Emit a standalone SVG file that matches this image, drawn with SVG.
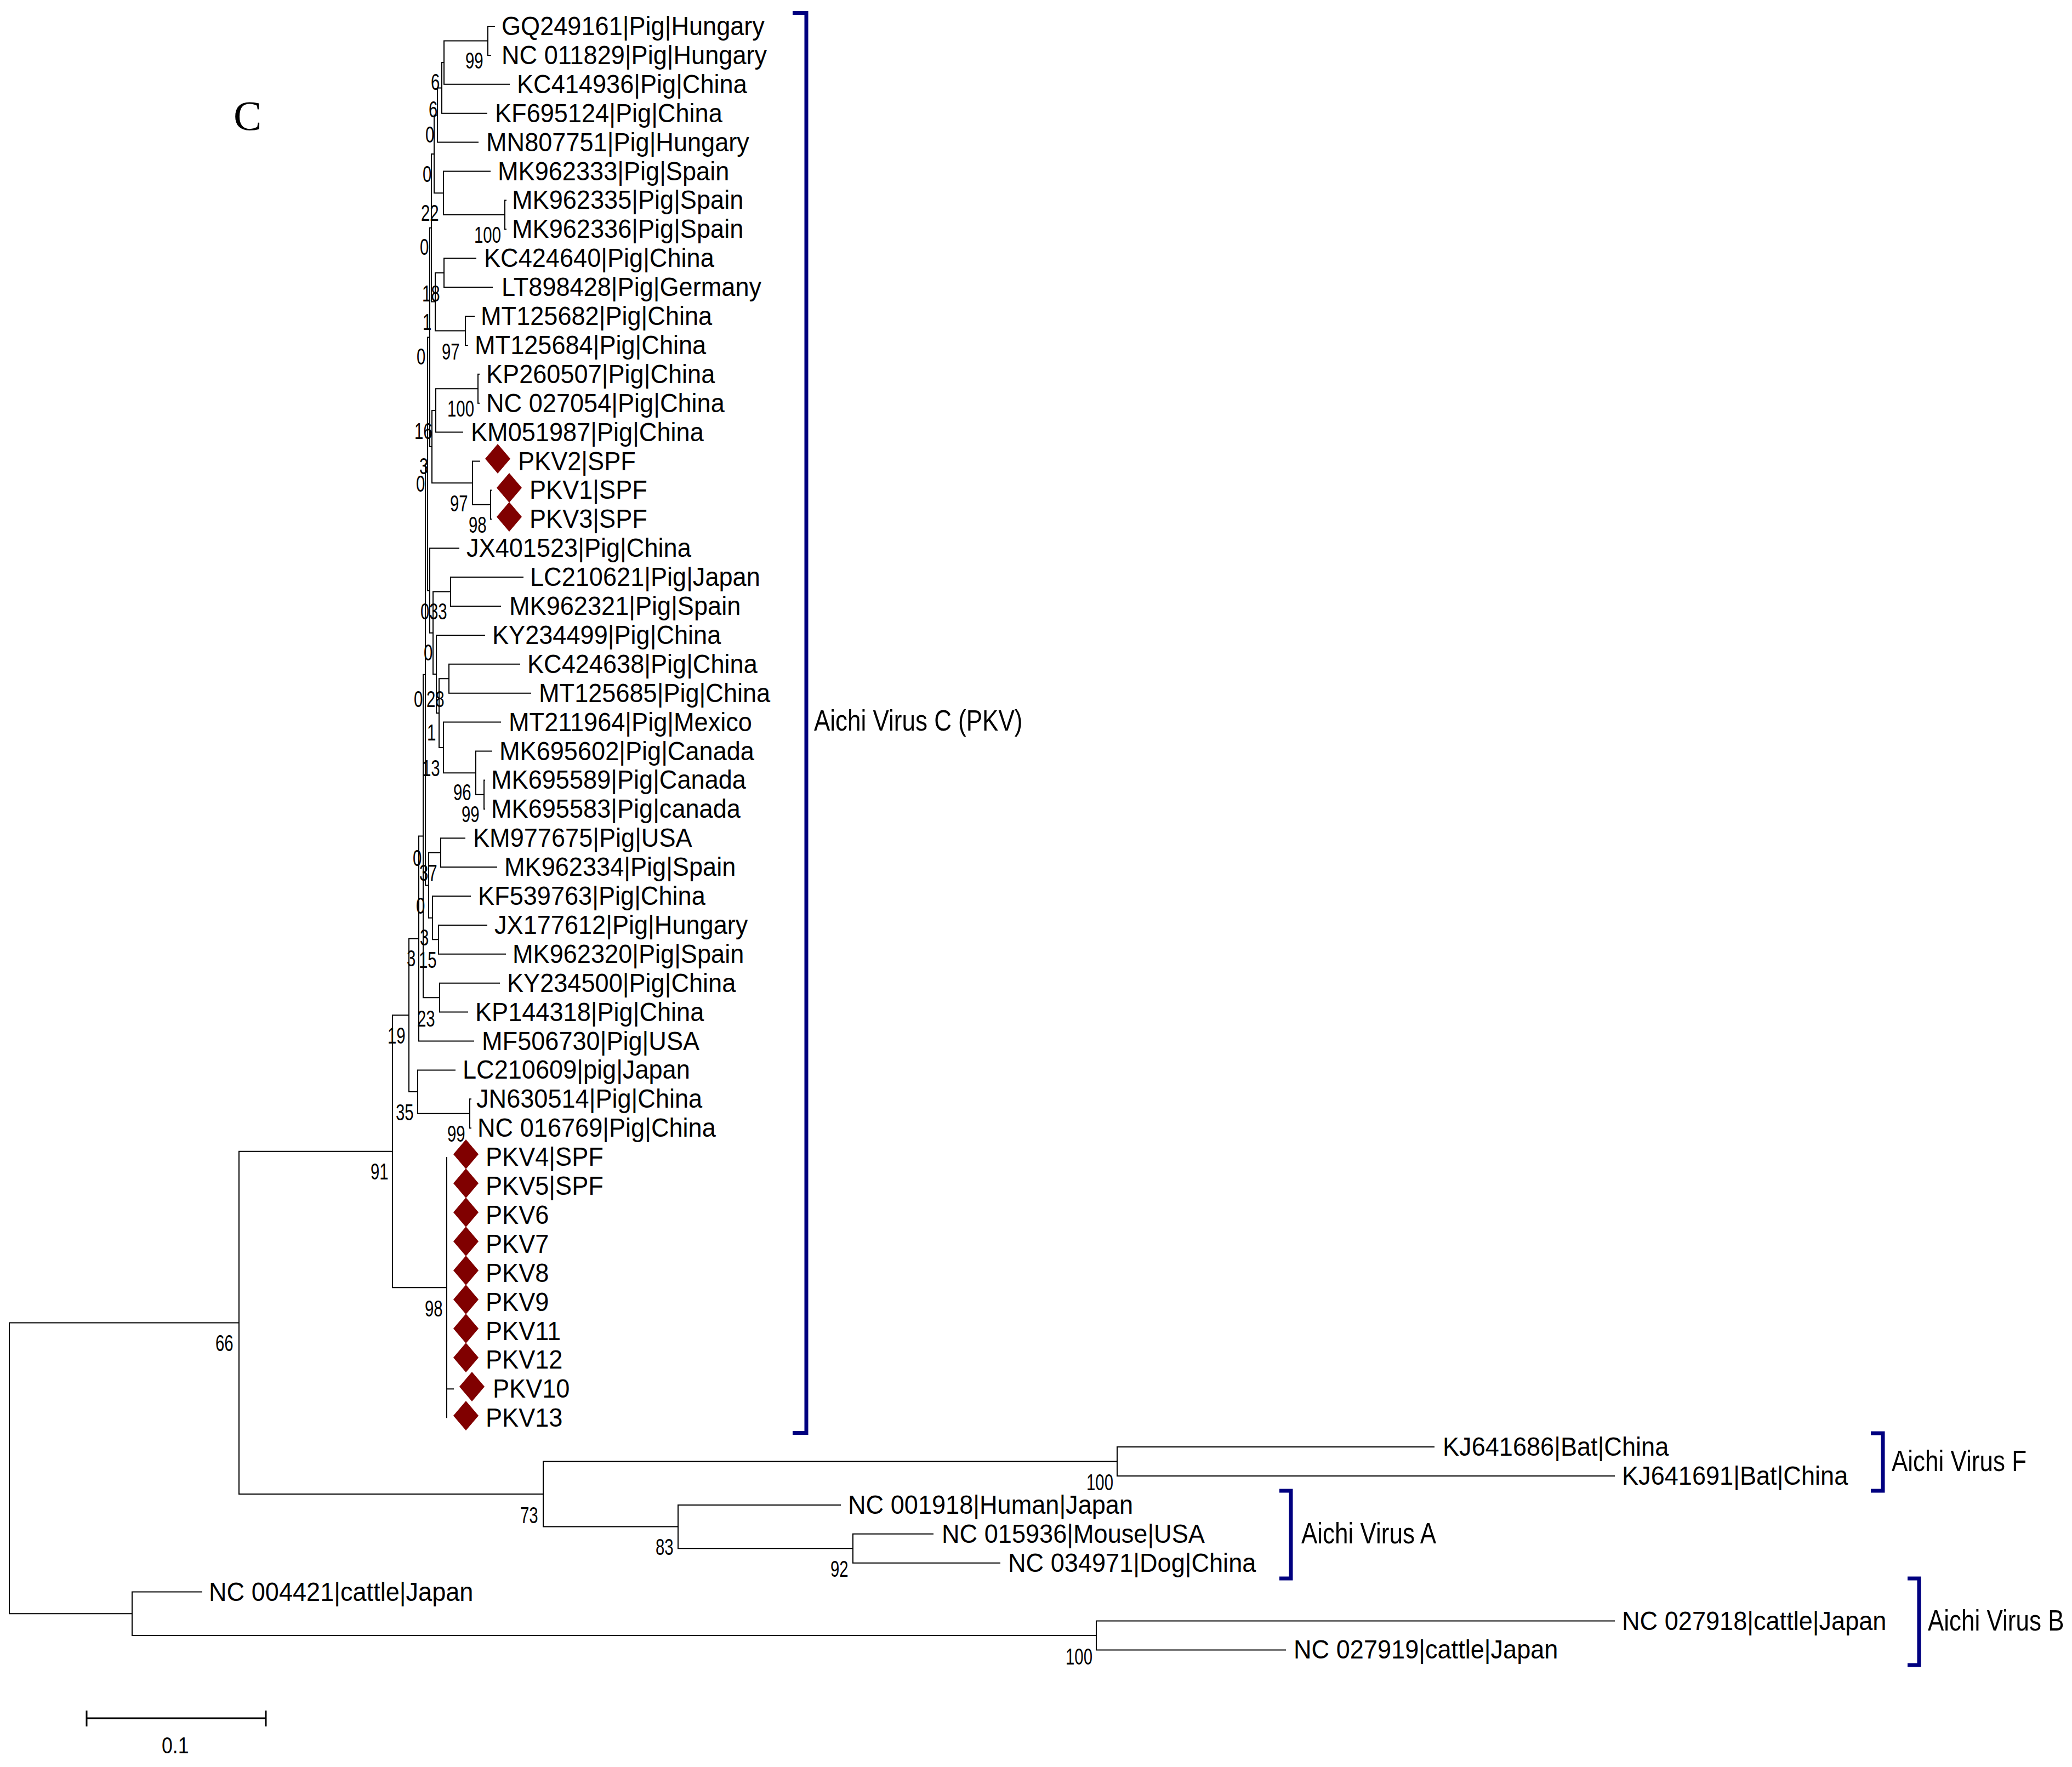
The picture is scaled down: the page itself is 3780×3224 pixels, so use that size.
<svg xmlns="http://www.w3.org/2000/svg" xmlns:xlink="http://www.w3.org/1999/xlink" width="3780" height="3224" viewBox="0 0 3780 3224">
<style>
.br{fill:none;stroke:#000;stroke-width:2}
.lf{font-family:"Liberation Sans",Arial,sans-serif;font-size:48px;fill:#000}
.bs{font-family:"Liberation Sans",Arial,sans-serif;font-size:42px;fill:#000}
.gl{font-family:"Liberation Sans",Arial,sans-serif;font-size:53px;fill:#000}
.bk{fill:none;stroke:#000080;stroke-width:7}
</style>
<defs>
<path id="dia" d="M0,-27 L23,0 L0,27 L-23,0Z" fill="#800000"/>
</defs>
<rect width="3780" height="3224" fill="#fff"/>
<text x="426" y="237" font-family="Liberation Serif,serif" font-size="77">C</text>
<g id="connectors" class="br">
<path d="M903 48H890V100.9H896"/>
<path d="M890 74.45H810V153.8H930"/>
<path d="M810 114.1H806V206.7H889"/>
<path d="M806 160.4H798V259.6H873"/>
<path d="M924 365.4H921V418.3H924"/>
<path d="M895 312.5H809V391.85H921"/>
<path d="M798 210H792V352.2H809"/>
<path d="M869 471.2H810V524.1H899"/>
<path d="M866 577H849V629.9H854"/>
<path d="M810 497.65H794V603.45H849"/>
<path d="M792 281.1H787V550.55H794"/>
<path d="M875 682.8H872V735.7H875"/>
<path d="M872 709.25H795V788.6H845"/>
<path d="M897 894.4H895V947.3H897"/>
<path d="M876 841.5H862V920.85H895"/>
<path d="M795 748.9H788V881.2H862"/>
<path d="M787 415.8H784V815.05H788"/>
<path d="M955 1053.1H822V1106H914"/>
<path d="M949 1211.8H819V1264.7H969"/>
<path d="M885 1423.4H883V1476.3H885"/>
<path d="M898 1370.5H868V1449.85H883"/>
<path d="M914 1317.6H809V1410.2H868"/>
<path d="M819 1238.25H801V1363.9H809"/>
<path d="M885 1158.9H796V1301.1H801"/>
<path d="M822 1079.55H790V1230H796"/>
<path d="M838 1000.2H784V1154.8H790"/>
<path d="M784 615.4H780V1077.5H784"/>
<path d="M849 1529.2H804V1582.1H907"/>
<path d="M889 1687.9H800V1740.8H923"/>
<path d="M859 1635H789V1714.35H800"/>
<path d="M804 1555.65H782V1674.7H789"/>
<path d="M780 846.45H776V1615.2H782"/>
<path d="M912 1793.7H802V1846.6H854"/>
<path d="M776 1230.8H772V1820.15H802"/>
<path d="M772 1525.5H764V1899.5H865"/>
<path d="M860 2005.3H857V2058.2H860"/>
<path d="M831 1952.4H762V2031.75H857"/>
<path d="M764 1712.5H746V1992.1H762"/>
<path d="M815 2111.1V2587.2M815 2534.3H828"/>
<path d="M746 1852.3H716V2349.15H815"/>
<path d="M2617 2640.1H2038V2693H2946"/>
<path d="M1703 2798.8H1556V2851.7H1825"/>
<path d="M1534 2745.9H1237V2825.25H1556"/>
<path d="M2038 2666.55H991V2785.6H1237"/>
<path d="M716 2100.7H436V2726.1H991"/>
<path d="M2946 2957.5H2000V3010.4H2346"/>
<path d="M369 2904.6H241V2983.95H2000"/>
<path d="M436 2413.4H17V2944.3H241"/>
</g>
<g id="leaves">
<g id="n1"><text class="lf" transform="translate(915,64) scale(0.94 1)">GQ249161|Pig|Hungary</text></g>
<g id="n2"><text class="lf" transform="translate(915,116.9) scale(0.94 1)">NC 011829|Pig|Hungary</text></g>
<g id="n3"><text class="lf" transform="translate(943,169.8) scale(0.94 1)">KC414936|Pig|China</text></g>
<g id="n4"><text class="lf" transform="translate(903,222.7) scale(0.94 1)">KF695124|Pig|China</text></g>
<g id="n5"><text class="lf" transform="translate(887,275.6) scale(0.94 1)">MN807751|Pig|Hungary</text></g>
<g id="n6"><text class="lf" transform="translate(908,328.5) scale(0.94 1)">MK962333|Pig|Spain</text></g>
<g id="n7"><text class="lf" transform="translate(934,381.4) scale(0.94 1)">MK962335|Pig|Spain</text></g>
<g id="n8"><text class="lf" transform="translate(934,434.3) scale(0.94 1)">MK962336|Pig|Spain</text></g>
<g id="n9"><text class="lf" transform="translate(883,487.2) scale(0.94 1)">KC424640|Pig|China</text></g>
<g id="n10"><text class="lf" transform="translate(915,540.1) scale(0.94 1)">LT898428|Pig|Germany</text></g>
<g id="n11"><text class="lf" transform="translate(877,593) scale(0.94 1)">MT125682|Pig|China</text></g>
<g id="n12"><text class="lf" transform="translate(866,645.9) scale(0.94 1)">MT125684|Pig|China</text></g>
<g id="n13"><text class="lf" transform="translate(887,698.8) scale(0.94 1)">KP260507|Pig|China</text></g>
<g id="n14"><text class="lf" transform="translate(887,751.7) scale(0.94 1)">NC 027054|Pig|China</text></g>
<g id="n15"><text class="lf" transform="translate(859,804.6) scale(0.94 1)">KM051987|Pig|China</text></g>
<g id="n16"><use xlink:href="#dia" x="908" y="837"/><text class="lf" transform="translate(945,857.5) scale(0.94 1)">PKV2|SPF</text></g>
<g id="n17"><use xlink:href="#dia" x="929" y="890"/><text class="lf" transform="translate(966,910.4) scale(0.94 1)">PKV1|SPF</text></g>
<g id="n18"><use xlink:href="#dia" x="929" y="943"/><text class="lf" transform="translate(966,963.3) scale(0.94 1)">PKV3|SPF</text></g>
<g id="n19"><text class="lf" transform="translate(851,1016.2) scale(0.94 1)">JX401523|Pig|China</text></g>
<g id="n20"><text class="lf" transform="translate(967,1069.1) scale(0.94 1)">LC210621|Pig|Japan</text></g>
<g id="n21"><text class="lf" transform="translate(929,1122) scale(0.94 1)">MK962321|Pig|Spain</text></g>
<g id="n22"><text class="lf" transform="translate(898,1174.9) scale(0.94 1)">KY234499|Pig|China</text></g>
<g id="n23"><text class="lf" transform="translate(962,1227.8) scale(0.94 1)">KC424638|Pig|China</text></g>
<g id="n24"><text class="lf" transform="translate(983,1280.7) scale(0.94 1)">MT125685|Pig|China</text></g>
<g id="n25"><text class="lf" transform="translate(928,1333.6) scale(0.94 1)">MT211964|Pig|Mexico</text></g>
<g id="n26"><text class="lf" transform="translate(911,1386.5) scale(0.94 1)">MK695602|Pig|Canada</text></g>
<g id="n27"><text class="lf" transform="translate(896,1439.4) scale(0.94 1)">MK695589|Pig|Canada</text></g>
<g id="n28"><text class="lf" transform="translate(896,1492.3) scale(0.94 1)">MK695583|Pig|canada</text></g>
<g id="n29"><text class="lf" transform="translate(863,1545.2) scale(0.94 1)">KM977675|Pig|USA</text></g>
<g id="n30"><text class="lf" transform="translate(920,1598.1) scale(0.94 1)">MK962334|Pig|Spain</text></g>
<g id="n31"><text class="lf" transform="translate(872,1651) scale(0.94 1)">KF539763|Pig|China</text></g>
<g id="n32"><text class="lf" transform="translate(902,1703.9) scale(0.94 1)">JX177612|Pig|Hungary</text></g>
<g id="n33"><text class="lf" transform="translate(935,1756.8) scale(0.94 1)">MK962320|Pig|Spain</text></g>
<g id="n34"><text class="lf" transform="translate(925,1809.7) scale(0.94 1)">KY234500|Pig|China</text></g>
<g id="n35"><text class="lf" transform="translate(867,1862.6) scale(0.94 1)">KP144318|Pig|China</text></g>
<g id="n36"><text class="lf" transform="translate(879,1915.5) scale(0.94 1)">MF506730|Pig|USA</text></g>
<g id="n37"><text class="lf" transform="translate(844,1968.4) scale(0.94 1)">LC210609|pig|Japan</text></g>
<g id="n38"><text class="lf" transform="translate(869,2021.3) scale(0.94 1)">JN630514|Pig|China</text></g>
<g id="n39"><text class="lf" transform="translate(871,2074.2) scale(0.94 1)">NC 016769|Pig|China</text></g>
<g id="n40"><use xlink:href="#dia" x="850" y="2106"/><text class="lf" transform="translate(886,2127.1) scale(0.94 1)">PKV4|SPF</text></g>
<g id="n41"><use xlink:href="#dia" x="850" y="2159"/><text class="lf" transform="translate(886,2180) scale(0.94 1)">PKV5|SPF</text></g>
<g id="n42"><use xlink:href="#dia" x="850" y="2212"/><text class="lf" transform="translate(886,2232.9) scale(0.94 1)">PKV6</text></g>
<g id="n43"><use xlink:href="#dia" x="850" y="2265"/><text class="lf" transform="translate(886,2285.8) scale(0.94 1)">PKV7</text></g>
<g id="n44"><use xlink:href="#dia" x="850" y="2318"/><text class="lf" transform="translate(886,2338.7) scale(0.94 1)">PKV8</text></g>
<g id="n45"><use xlink:href="#dia" x="850" y="2371"/><text class="lf" transform="translate(886,2391.6) scale(0.94 1)">PKV9</text></g>
<g id="n46"><use xlink:href="#dia" x="850" y="2424"/><text class="lf" transform="translate(886,2444.5) scale(0.94 1)">PKV11</text></g>
<g id="n47"><use xlink:href="#dia" x="850" y="2477"/><text class="lf" transform="translate(886,2497.4) scale(0.94 1)">PKV12</text></g>
<g id="n48"><use xlink:href="#dia" x="861" y="2530"/><text class="lf" transform="translate(899,2550.3) scale(0.94 1)">PKV10</text></g>
<g id="n49"><use xlink:href="#dia" x="850" y="2583"/><text class="lf" transform="translate(886,2603.2) scale(0.94 1)">PKV13</text></g>
<g id="n50"><text class="lf" transform="translate(2632,2656.1) scale(0.94 1)">KJ641686|Bat|China</text></g>
<g id="n51"><text class="lf" transform="translate(2959,2709) scale(0.94 1)">KJ641691|Bat|China</text></g>
<g id="n52"><text class="lf" transform="translate(1547,2761.9) scale(0.94 1)">NC 001918|Human|Japan</text></g>
<g id="n53"><text class="lf" transform="translate(1718,2814.8) scale(0.94 1)">NC 015936|Mouse|USA</text></g>
<g id="n54"><text class="lf" transform="translate(1839,2867.7) scale(0.94 1)">NC 034971|Dog|China</text></g>
<g id="n55"><text class="lf" transform="translate(381,2920.6) scale(0.94 1)">NC 004421|cattle|Japan</text></g>
<g id="n56"><text class="lf" transform="translate(2959,2973.5) scale(0.94 1)">NC 027918|cattle|Japan</text></g>
<g id="n57"><text class="lf" transform="translate(2360,3026.4) scale(0.94 1)">NC 027919|cattle|Japan</text></g>
</g>
<g id="bootstrap" class="bs">
<text transform="translate(849,125) scale(0.7 1)">99</text>
<text transform="translate(786,164) scale(0.7 1)">6</text>
<text transform="translate(782,214) scale(0.7 1)">6</text>
<text transform="translate(776,260) scale(0.7 1)">0</text>
<text transform="translate(771,332) scale(0.7 1)">0</text>
<text transform="translate(768,403) scale(0.7 1)">22</text>
<text transform="translate(865,443) scale(0.7 1)">100</text>
<text transform="translate(766,465) scale(0.7 1)">0</text>
<text transform="translate(770,550) scale(0.7 1)">18</text>
<text transform="translate(771,602) scale(0.7 1)">1</text>
<text transform="translate(760,665) scale(0.7 1)">0</text>
<text transform="translate(806,656) scale(0.7 1)">97</text>
<text transform="translate(816,760) scale(0.7 1)">100</text>
<text transform="translate(756,801) scale(0.7 1)">16</text>
<text transform="translate(765,865) scale(0.7 1)">3</text>
<text transform="translate(759,897) scale(0.7 1)">0</text>
<text transform="translate(821,933) scale(0.7 1)">97</text>
<text transform="translate(855,972) scale(0.7 1)">98</text>
<text transform="translate(767,1130) scale(0.7 1)">0</text>
<text transform="translate(783,1130) scale(0.7 1)">33</text>
<text transform="translate(773,1205) scale(0.7 1)">0</text>
<text transform="translate(755,1290) scale(0.7 1)">0</text>
<text transform="translate(778,1290) scale(0.7 1)">28</text>
<text transform="translate(779,1351) scale(0.7 1)">1</text>
<text transform="translate(770,1416) scale(0.7 1)">13</text>
<text transform="translate(827,1460) scale(0.7 1)">96</text>
<text transform="translate(842,1500) scale(0.7 1)">99</text>
<text transform="translate(753,1580) scale(0.7 1)">0</text>
<text transform="translate(765,1607) scale(0.7 1)">37</text>
<text transform="translate(759,1667) scale(0.7 1)">0</text>
<text transform="translate(766,1725) scale(0.7 1)">3</text>
<text transform="translate(742,1763) scale(0.7 1)">3</text>
<text transform="translate(764,1766) scale(0.7 1)">15</text>
<text transform="translate(761,1873) scale(0.7 1)">23</text>
<text transform="translate(707,1904) scale(0.7 1)">19</text>
<text transform="translate(722,2044) scale(0.7 1)">35</text>
<text transform="translate(816,2083) scale(0.7 1)">99</text>
<text transform="translate(676,2152) scale(0.7 1)">91</text>
<text transform="translate(775,2402) scale(0.7 1)">98</text>
<text transform="translate(393,2465) scale(0.7 1)">66</text>
<text transform="translate(949,2779) scale(0.7 1)">73</text>
<text transform="translate(1196,2837) scale(0.7 1)">83</text>
<text transform="translate(1515,2877) scale(0.7 1)">92</text>
<text transform="translate(1982,2719) scale(0.7 1)">100</text>
<text transform="translate(1944,3037) scale(0.7 1)">100</text>
</g>
<g id="clades">
<g id="cladeC"><path class="bk" d="M1446 23.5H1471V2614.5H1446"/><text class="gl" transform="translate(1485,1333) scale(0.83 1)">Aichi Virus C (PKV)</text></g>
<g id="cladeF"><path class="bk" d="M3413 2615H3435V2720H3413"/><text class="gl" transform="translate(3451,2684) scale(0.83 1)">Aichi Virus F</text></g>
<g id="cladeA"><path class="bk" d="M2334 2720H2355V2880H2334"/><text class="gl" transform="translate(2374,2816) scale(0.83 1)">Aichi Virus A</text></g>
<g id="cladeB"><path class="bk" d="M3480 2880H3501V3038H3480"/><text class="gl" transform="translate(3517,2975) scale(0.83 1)">Aichi Virus B</text></g>
</g>
<g id="scalebar">
<path d="M158 3135H485M158 3121V3150M485 3121V3150" fill="none" stroke="#000" stroke-width="3"/>
<text class="bs" font-size="52" transform="translate(295,3199) scale(0.85 1)">0.1</text>
</g>
</svg>
